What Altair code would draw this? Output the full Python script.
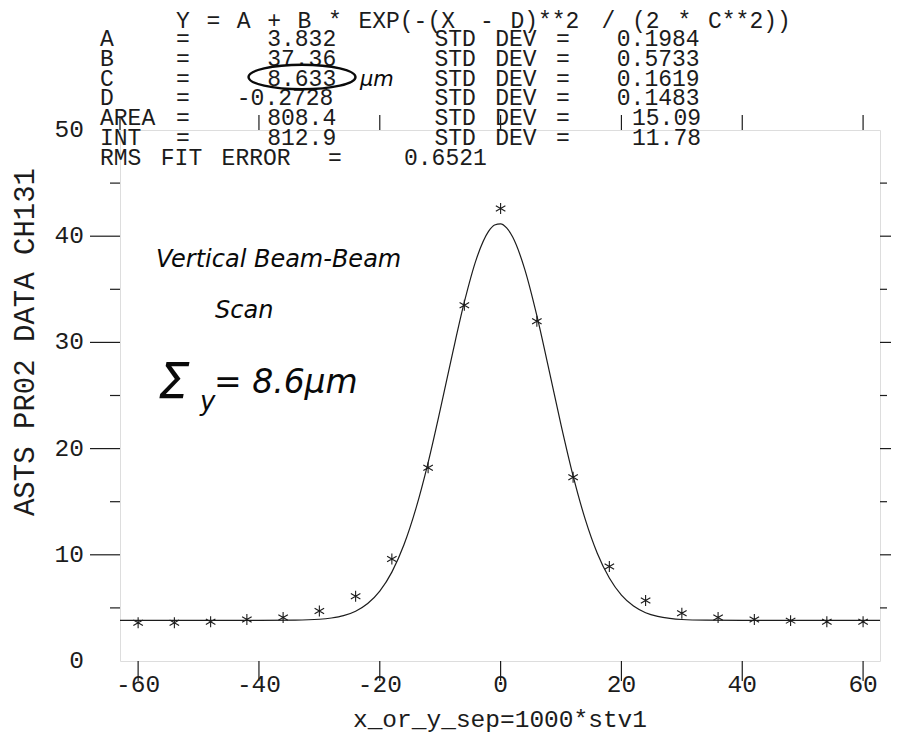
import altair as alt
import pandas as pd

x_pts = [-60, -54, -48, -42, -36, -30, -24, -18, -12, -6, 0, 6, 12, 18, 24, 30, 36, 42, 48, 54, 60]
y_pts = [3.6, 3.6, 3.7, 3.9, 4.1, 4.7, 6.1, 9.6, 18.2, 33.5, 42.6, 32.0, 17.3, 8.9, 5.7, 4.5, 4.1, 3.9, 3.8, 3.7, 3.7]

# ---- fitted curve ----
x_fit = [-63, -50, -40, -34, -30, -28, -26, -24, -22, -20, -18, -16, -14, -12, -10, -8, -6, -4, -2, -1,
         0, 1, 2, 4, 6, 8, 10, 12, 14, 16, 18, 20, 22, 24, 26, 28, 30, 34, 40, 50, 62.8]
y_fit = [3.83, 3.83, 3.83, 3.85, 3.93, 4.05, 4.27, 4.69, 5.41, 6.58, 8.37, 10.94, 14.39, 18.68, 23.64, 28.86,
         33.81, 37.87, 40.45, 41.06, 41.17, 40.79, 39.92, 36.88, 32.52, 27.44, 22.24, 17.43, 13.36, 10.15,
         7.81, 6.20, 5.17, 4.55, 4.20, 4.01, 3.91, 3.85, 3.83, 3.83, 3.83]

# ---- axes ----
x_tick_values = [-60, -40, -20, 0, 20, 40, 60]
x_tick_labels = ["-60", "-40", "-20", "0", "20", "40", "60"]
top_tick_values = [-40, -20, 0, 20, 40, 60]
y_label_values = [0, 10, 20, 30, 40, 50]
y_tick_labels = ["0", "10", "20", "30", "40", "50"]
y_major_ticks = [10, 20, 30, 40]
y_minor_ticks = [5, 15, 25, 35, 45]

# ---- texts ----
equation = "Y = A + B * EXP(-(X - D)**2 / (2 * C**2))"
param_names = ["A", "B", "C", "D", "AREA", "INT"]
param_values = ["3.832", "37.36", "8.633", "-0.2728", "808.4", "812.9"]
param_stddev = ["0.1984", "0.5733", "0.1619", "0.1483", "15.09", "11.78"]
std_label = "STD DEV ="
rms_label = "RMS FIT ERROR"
rms_value = "0.6521"
x_title = "x_or_y_sep=1000*stv1"
y_title = "ASTS PR02 DATA CH131"
note_lines = ["Vertical Beam-Beam", "Scan", "\u03a3", "y", "= 8.6\u03bcm", "\u03bcm"]

# ---- layout / style ----
W, H = 760, 531
INK = "#1c1c1c"
MONO = "Liberation Mono"
FS = 24.5
HFS = 23
PITCH = 15.2
COL0 = -20.0
ROW0 = -109
ROWS = [-91, -71.2, -51.4, -31.6, -11.8, 8, 27.8]


def col(c):
    return COL0 + c * PITCH


def tokens(text, start_col, row_y, out):
    """Split a segment into words and place each word on the character grid."""
    c = start_col
    for word in text.split(" "):
        if word:
            out.append((word, col(c), row_y))
        c += len(word) + 1


xs = alt.Scale(domain=[-63, 62.8], nice=False, zero=False)
ys = alt.Scale(domain=[0, 50], nice=False, zero=False)

pts = pd.DataFrame({"x": x_pts, "y": y_pts})
fit = pd.DataFrame({"x": x_fit, "y": y_fit})

STAR = "M0,-1L0,1M-0.87,-0.5L0.87,0.5M-0.87,0.5L0.87,-0.5"
ELLIPSE = "M-1,0A1,0.23 0 1,1 1,0A1,0.23 0 1,1 -1,0Z"

curve = alt.Chart(fit).mark_line(color=INK, strokeWidth=1.2, interpolate="monotone", clip=True).encode(
    x=alt.X("x:Q", scale=xs, axis=None), y=alt.Y("y:Q", scale=ys, axis=None))

stars = alt.Chart(pts).mark_point(shape=STAR, size=120, filled=False, color=INK, strokeWidth=1.1,
                                  opacity=1).encode(
    x=alt.X("x:Q", scale=xs, axis=None), y=alt.Y("y:Q", scale=ys, axis=None))

xt = pd.DataFrame({"v": x_tick_values, "t": x_tick_labels})
bottom_ticks = alt.Chart(xt).mark_rule(color=INK, strokeWidth=1.2).encode(
    x=alt.X("v:Q", scale=xs, axis=None), y=alt.value(H), y2=alt.value(H + 20))
bottom_labels = alt.Chart(xt).mark_text(font=MONO, fontSize=FS, color=INK, baseline="middle",
                                        align="center").encode(
    x=alt.X("v:Q", scale=xs, axis=None), y=alt.value(H + 24), text="t:N")

top_ticks = alt.Chart(pd.DataFrame({"v": top_tick_values})).mark_rule(color=INK, strokeWidth=1.2).encode(
    x=alt.X("v:Q", scale=xs, axis=None), y=alt.value(-15), y2=alt.value(0))

yl = pd.DataFrame({"v": y_label_values, "t": y_tick_labels})
left_labels = alt.Chart(yl).mark_text(font=MONO, fontSize=FS, color=INK, baseline="middle",
                                      align="right").encode(
    y=alt.Y("v:Q", scale=ys, axis=None), x=alt.value(-36), text="t:N")

ymaj = pd.DataFrame({"v": y_major_ticks})
ymin = pd.DataFrame({"v": y_minor_ticks})
left_major = alt.Chart(ymaj).mark_rule(color=INK, strokeWidth=1.2).encode(
    y=alt.Y("v:Q", scale=ys, axis=None), x=alt.value(-30), x2=alt.value(0))
left_minor = alt.Chart(ymin).mark_rule(color=INK, strokeWidth=1.2).encode(
    y=alt.Y("v:Q", scale=ys, axis=None), x=alt.value(-10), x2=alt.value(0))
right_major = alt.Chart(ymaj).mark_rule(color=INK, strokeWidth=1.2).encode(
    y=alt.Y("v:Q", scale=ys, axis=None), x=alt.value(W), x2=alt.value(W + 11))
right_minor = alt.Chart(ymin).mark_rule(color=INK, strokeWidth=1.2).encode(
    y=alt.Y("v:Q", scale=ys, axis=None), x=alt.value(W), x2=alt.value(W + 7))
left_ext = alt.Chart(pd.DataFrame({"v": [50]})).mark_rule(color=INK, strokeWidth=1.3).encode(
    y=alt.Y("v:Q", scale=ys, axis=None), x=alt.value(0), y2=alt.value(-12))

# header text on a monospaced character grid
rows = []
tokens(equation, 5, ROW0, rows)
for i, name in enumerate(param_names):
    tokens(name, 0, ROWS[i], rows)
    tokens("=", 5, ROWS[i], rows)
    tokens(param_values[i], 16 - len(param_values[i]), ROWS[i], rows)
    tokens(std_label, 22, ROWS[i], rows)
    tokens(param_stddev[i], 40 - len(param_stddev[i]), ROWS[i], rows)
tokens(rms_label, 0, ROWS[6], rows)
tokens("=", 15, ROWS[6], rows)
tokens(rms_value, 20, ROWS[6], rows)

hdr = pd.DataFrame(rows, columns=["text", "px", "py"])
header = alt.Chart(hdr).mark_text(font=MONO, fontSize=HFS, color=INK, baseline="middle",
                                  align="left").encode(
    x=alt.X("px:Q", scale=None), y=alt.Y("py:Q", scale=None), text="text:N")

xtitle = alt.Chart(pd.DataFrame({"t": [x_title]})).mark_text(
    font=MONO, fontSize=FS, color=INK, baseline="alphabetic", align="center").encode(
    x=alt.value(380), y=alt.value(597), text="t:N")
ytitle = alt.Chart(pd.DataFrame({"t": [y_title]})).mark_text(
    font=MONO, fontSize=29, color=INK, baseline="middle", align="center", angle=270).encode(
    x=alt.value(-95), y=alt.value(212), text="t:N")

# handwritten notes
notes = pd.DataFrame({
    "text": note_lines,
    "px": [36, 95, 38, 80, 94, 240],
    "py": [137, 188, 268, 280, 263, -44],
    "fs": [24, 24, 50, 26, 33, 21],
})
hand = alt.Chart(notes).mark_text(font="DejaVu Sans", fontStyle="italic", color="#0a0a0a",
                                  baseline="alphabetic", align="left").encode(
    x=alt.X("px:Q", scale=None), y=alt.Y("py:Q", scale=None), text="text:N",
    size=alt.Size("fs:Q", scale=None))
circle = alt.Chart(pd.DataFrame({"k": [1]})).mark_point(
    shape=ELLIPSE, size=11449, filled=False, color="#0a0a0a", strokeWidth=2.4, opacity=1).encode(
    x=alt.value(182), y=alt.value(-53))

chart = alt.layer(
    curve, stars, bottom_ticks, bottom_labels, top_ticks, left_labels, left_major, left_minor,
    right_major, right_minor, left_ext, header, xtitle, ytitle, hand, circle
).properties(
    width=W, height=H,
    autosize=alt.AutoSizeParams(type="none"),
    padding={"left": 112, "top": 122, "right": 11, "bottom": 74},
).configure_view(stroke=INK, strokeWidth=1.4).configure(background="white")

chart.save("out.html", embed_options={"renderer": "svg", "actions": False})
